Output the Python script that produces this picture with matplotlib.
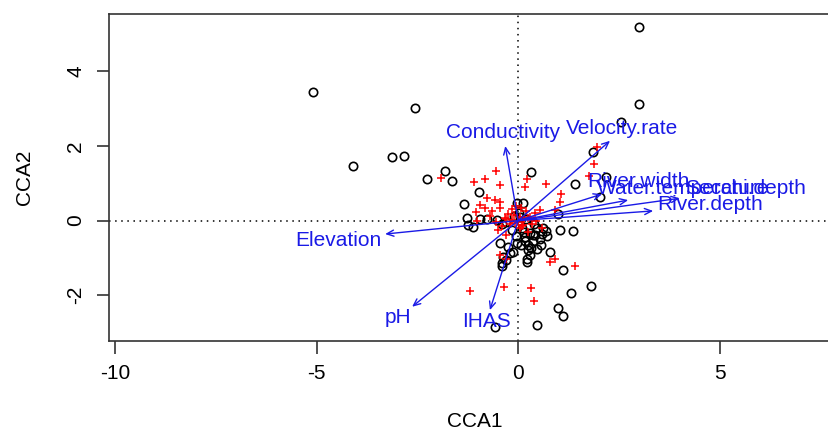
import matplotlib
matplotlib.use("Agg")
import matplotlib.pyplot as plt

plt.rcParams['font.family'] = ['Liberation Sans', 'DejaVu Sans']
plt.rcParams['axes.unicode_minus'] = False

# site scores (black circles)
site_x = [-5.10, -2.56, -4.09, -3.14, -2.84, 2.99, 2.99, 2.56, 1.86, 2.19, 2.04, 1.42, 0.33,
          -1.82, -2.25, -1.65, -0.97, -1.34, -0.04, 0.11, -1.26, -0.95, -0.78, -0.52, 0.02,
          -1.12, -1.24, -0.29, 0.99, -0.41, 0.17, 0.29, 0.41, -0.04, 0.08, 0.25, -0.25, -0.12,
          -0.21, -0.37, -0.29, -0.41, -0.41, 0.21, 0.21, -0.58, 0.46, 0.69, 0.72, 1.03, 1.36,
          0.37, 0.37, 0.47, 0.33, 0.79, 1.12, 1.80, 1.30, 0.99, 1.12, 0.46, 0.54, 0.57, 0.30,
          0.15, -0.05, 0.40, 0.60, 0.20, -0.15, 0.10, 0.05, -0.10, 0.62, 0.25, -0.45, 0.18]
site_y = [3.46, 3.03, 1.47, 1.70, 1.72, 5.20, 3.13, 2.64, 1.83, 1.18, 0.64, 0.98, 1.30,
          1.34, 1.12, 1.05, 0.78, 0.45, 0.48, 0.48, 0.06, 0.04, 0.04, 0.02, 0.20,
          -0.18, -0.12, -0.05, 0.18, -0.09, -0.43, -0.34, -0.38, -0.61, -0.65, -0.65, -0.70, -0.83,
          -0.87, -0.97, -1.05, -1.14, -1.23, -1.03, -1.12, -2.84, -0.20, -0.27, -0.41, -0.25, -0.27,
          -0.38, -0.56, -0.77, -0.74, -0.83, -1.32, -1.75, -1.93, -2.35, -2.55, -2.80, -0.50, -0.65, -0.92,
          -0.30, -0.40, -0.10, -0.35, 0.05, -0.25, -0.20, 0.10, 0.12, -0.20, -0.80, -0.60, -0.55]

# species scores (red crosses)
spec_x = [-1.92, -0.54, -0.81, -1.09, -0.44, 0.22, 0.17, -0.78, -0.58, -0.44, -0.95, -0.83,
          -1.05, -0.66, -0.45, -0.25, -0.70, -0.33, -0.16, -0.08, 0.12, 0.25, -1.03, 0.04,
          1.95, 1.88, 1.75, 0.69, 1.06, 1.03, 0.91, 0.54, 0.41, -0.50, -0.29, -0.45, -0.29,
          -1.20, -0.35, 0.31, 0.39, 0.79, 0.91, 1.42, 0.05, -0.10, 0.15, -0.20, 0.10, 0.30,
          -0.30, 0.00, 0.20, -0.15, 0.35, -0.40, 0.25, 0.08, -0.05, 0.45, -0.55, 0.60]
spec_y = [1.15, 1.33, 1.12, 1.03, 0.96, 1.11, 0.91, 0.60, 0.55, 0.49, 0.42, 0.33,
          0.24, 0.26, 0.33, 0.18, 0.13, 0.06, 0.02, -0.07, -0.12, 0.06, 0.00, -0.20,
          1.98, 1.52, 1.20, 0.98, 0.71, 0.49, 0.29, 0.29, 0.20, -0.25, -0.38, -0.92, -1.03,
          -1.90, -1.77, -1.80, -2.15, -1.10, -1.04, -1.21, 0.10, 0.15, 0.05, -0.10, -0.15, 0.10,
          0.05, -0.05, 0.25, 0.30, -0.10, -0.15, -0.30, 0.35, 0.40, 0.00, -0.05, -0.20]

# environmental arrows
env_names = ['Conductivity', 'Velocity.rate', 'River.width', 'Water.temperature',
             'Secchi.depth', 'River.depth', 'Elevation', 'pH', 'IHAS']
env_x = [-0.32, 2.28, 2.08, 2.73, 4.01, 3.35, -3.30, -2.63, -0.70]
env_y = [2.00, 2.14, 0.71, 0.55, 0.60, 0.26, -0.36, -2.31, -2.40]
lab_x = [-0.37, 2.58, 2.98, 4.09, 5.63, 4.76, -4.47, -2.98, -0.79]
lab_y = [2.35, 2.48, 1.04, 0.85, 0.85, 0.42, -0.52, -2.61, -2.71]

fig = plt.figure(figsize=(8.29, 4.30), dpi=100)
ax = fig.add_axes([109 / 829, 1 - 340.7 / 430, (841 - 109) / 829, (340.7 - 14) / 430])
ax.set_xlim(-10.15, 8.01)
ax.set_ylim(-3.22, 5.54)

ax.axhline(0, color='black', lw=1.1, ls=(0, (1, 3)), zorder=1)
ax.axvline(0, color='black', lw=1.1, ls=(0, (1, 3)), zorder=1)

ax.plot(site_x, site_y, 'o', mfc='none', mec='black', ms=6, mew=1.2, zorder=2)
ax.plot(spec_x, spec_y, '+', color='red', ms=6, mew=1.1, zorder=3)

for name, x, y, tx, ty in zip(env_names, env_x, env_y, lab_x, lab_y):
    ax.annotate('', xy=(x, y), xytext=(0, 0),
                arrowprops=dict(arrowstyle='->,head_length=0.5,head_width=0.22',
                                color='#1a1ae6', lw=1.0, shrinkA=0, shrinkB=0),
                zorder=4)
    ax.text(tx, ty, name, color='#1a1ae6', fontsize=15, ha='center', va='center', zorder=5)

for side in ['top', 'left', 'bottom', 'right']:
    ax.spines[side].set_linewidth(1.2)
    ax.spines[side].set_color('#333333')

ax.set_xticks([-10, -5, 0, 5])
ax.set_yticks([-2, 0, 2, 4])
ax.tick_params(direction='out', length=9, width=1.2, color='#333333', labelsize=15, pad=8)
for lab in ax.get_yticklabels():
    lab.set_rotation(90)
    lab.set_va('center')

ax.set_xlabel('CCA1', fontsize=15)
ax.set_ylabel('CCA2', fontsize=15)
ax.xaxis.set_label_coords(0.5, -0.264)
ax.xaxis.label.set_va('baseline')
ax.yaxis.set_label_coords(-0.115, 0.5)
ax.yaxis.label.set_va('center')

fig.savefig('out.png', dpi=100)
